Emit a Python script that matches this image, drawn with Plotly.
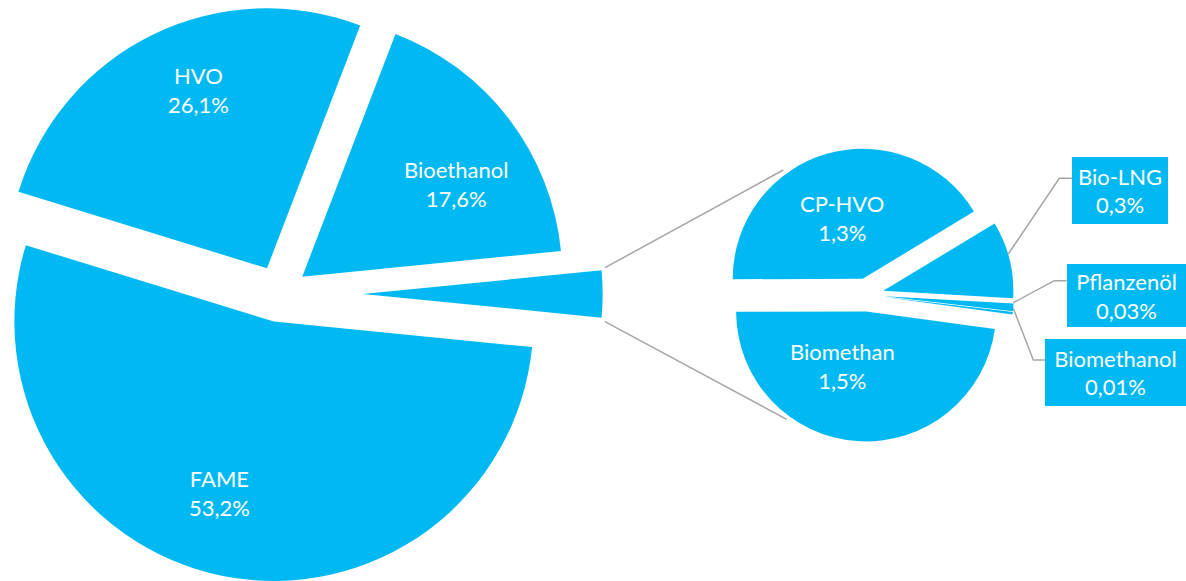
import math
import plotly.graph_objects as go

W, H = 1186, 581

# ---------------- data ----------------
main_labels = ["FAME", "HVO", "Bioethanol"]
main_values = [53.2, 26.1, 17.6]

sub_labels = ["CP-HVO", "Bio-LNG", "Pflanzenöl", "Biomethanol", "Biomethan"]
sub_values = [1.3, 0.3, 0.03, 0.01, 1.5]

other_label = "Sonstige"
other_value = round(sum(sub_values), 2)

# ---------------- style ----------------
COLOR = "#00B9F2"
LINE = "#A6A6A6"
CLEAR = "rgba(0,0,0,0)"
FONT = dict(family="Lato, Open Sans, sans-serif", size=22, color="white")


def clamp(v):
    return max(0.0, min(1.0, v))


def fmt(label, value):
    return f"{label}<br>{str(value).replace('.', ',')}%"


def P(x, y):
    """pixel -> paper"""
    return x / W, 1 - y / H


fig = go.Figure()

# ---------------- main pie (each slice exploded on its own) ----------------
m_labels = [other_label] + main_labels      # clockwise order, starting at 3 o'clock
m_values = [other_value] + main_values
M_CX, M_CY, M_R = 279.5, 294.0, 260.0
M_ROT = 84.35
m_pull = [0.32, 0.11, 0.11, 0.11]
m_rad = [240 / 260, 1, 1, 1]

total = sum(m_values)
cum = 0.0
for i, v in enumerate(m_values):
    mid = M_ROT + (cum + v / 2) / total * 360
    cum += v
    a = math.radians(mid)
    d = m_pull[i] * M_R
    tx = M_CX + d * math.sin(a)
    ty = M_CY - d * math.cos(a)
    r = M_R * m_rad[i]
    colors = [CLEAR] * len(m_values)
    colors[i] = COLOR
    fig.add_trace(go.Pie(
        labels=m_labels, values=m_values, sort=False,
        direction="clockwise", rotation=M_ROT,
        marker=dict(colors=colors, line=dict(width=0)),
        textinfo="none", hoverinfo="skip", showlegend=False,
        domain=dict(x=[clamp((tx - r) / W), clamp((tx + r) / W)],
                    y=[clamp(1 - (ty + r) / H), clamp(1 - (ty - r) / H)]),
    ))

# ---------------- secondary pie ----------------
S_CX, S_CY, S_R, S_PULL = 867.2, 294.8, 130.0, 0.128
half = S_R * (1 + S_PULL)
fig.add_trace(go.Pie(
    labels=sub_labels, values=sub_values, sort=False,
    direction="clockwise", rotation=269.8, pull=S_PULL,
    marker=dict(colors=[COLOR] * len(sub_values), line=dict(width=0)),
    textinfo="none", hoverinfo="skip", showlegend=False,
    domain=dict(x=[(S_CX - half) / W, (S_CX + half) / W],
                y=[1 - (S_CY + half) / H, 1 - (S_CY - half) / H]),
))

# ---------------- labels ----------------
annotations = []
inside_pos = {"FAME": (219, 492.5), "HVO": (198, 89.5), "Bioethanol": (456, 183.5),
              "CP-HVO": (842, 218), "Biomethan": (842, 366)}
box_pos = {"Bio-LNG": (1120, 190, 96, 66.6),
           "Pflanzenöl": (1126.1, 295, 119, 63.4),
           "Biomethanol": (1115.5, 372.3, 141, 66.7)}

all_pairs = list(zip(main_labels, main_values)) + list(zip(sub_labels, sub_values))
for lab, val in all_pairs:
    if lab in inside_pos:
        x, y = P(*inside_pos[lab])
        annotations.append(dict(x=x, y=y, xref="paper", yref="paper", text=fmt(lab, val),
                                showarrow=False, font=FONT, xanchor="center", yanchor="middle"))
    elif lab in box_pos:
        bx, by, bw, bh = box_pos[lab]
        x, y = P(bx, by)
        annotations.append(dict(x=x, y=y, xref="paper", yref="paper", text=fmt(lab, val),
                                showarrow=False, font=FONT, xanchor="center", yanchor="middle",
                                bgcolor=COLOR, borderpad=0, borderwidth=0,
                                width=bw, height=bh, align="center", valign="middle"))

# ---------------- connector / leader lines ----------------
lines = [
    [(605, 267.7), (783.3, 170)],
    [(605, 321.7), (786.7, 419.3)],
    [(1008.3, 254), (1059.3, 178.3), (1072, 178.3)],
    [(1013.3, 302.7), (1054.3, 280.7), (1066.7, 280.7)],
    [(1013.3, 308.3), (1033.3, 360), (1045, 360)],
]
shapes = []
for pts in lines:
    pp = [P(x, y) for x, y in pts]
    path = "M " + " L ".join(f"{x:.5f},{y:.5f}" for x, y in pp)
    shapes.append(dict(type="path", path=path, xref="paper", yref="paper",
                       line=dict(color=LINE, width=1.5)))

fig.update_layout(
    width=W, height=H,
    margin=dict(l=0, r=0, t=0, b=0),
    paper_bgcolor="white", plot_bgcolor="white",
    showlegend=False,
    annotations=annotations,
    shapes=shapes,
)

fig.write_html(
    "out.html",
    config={"displayModeBar": False},
    post_script="document.body.style.margin='0';document.body.style.overflow='hidden';",
)
